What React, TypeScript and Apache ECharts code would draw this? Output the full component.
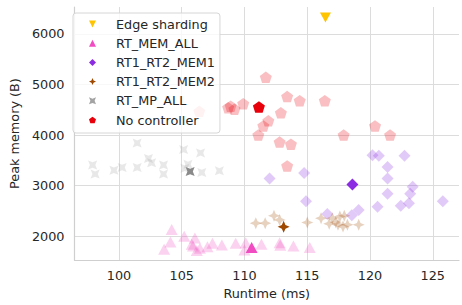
import React, { useEffect, useRef } from "react";
import * as echarts from "echarts";

// ---------- data ----------
const seriesNames = ["Edge sharding", "RT_MEM_ALL", "RT1_RT2_MEM1", "RT1_RT2_MEM2", "RT_MP_ALL", "No controller"];

const xTicks = [100, 105, 110, 115, 120, 125];
const yTicks = [2000, 3000, 4000, 5000, 6000];

const edgeSharding: number[][] = [[116.45, 6325]];

const rtMemAllRuns: number[][] = [
  [104.2, 2130], [104.1, 1885], [103.6, 1740], [105.2, 2000], [106.05, 1965], [105.8, 1840],
  [105.9, 1805], [106.45, 1760], [106.2, 1715], [107.05, 1790], [107.45, 1860], [108.2, 1825],
  [109.3, 1860], [110.1, 1870], [110.0, 1725], [111.35, 1840], [112.8, 1870], [112.85, 1820],
  [113.9, 1805], [115.2, 1775],
];
const rtMemAllBest: number[] = [110.57, 1775];

const mem1Runs: number[][] = [
  [112.0, 3140], [114.75, 3250], [114.9, 2690], [116.6, 2440], [118.55, 2415], [119.1, 2520],
  [120.2, 3600], [120.7, 3590], [121.4, 3370], [121.4, 3140], [121.4, 2840], [120.6, 2580],
  [122.75, 3590], [122.45, 2600], [123.1, 2650], [123.2, 2840], [123.4, 2980], [125.8, 2690],
];
const mem1Best: number[] = [118.6, 3020];

const mem2Runs: number[][] = [
  [110.9, 2258], [111.65, 2258], [112.35, 2405], [112.8, 2322], [115.0, 2272], [116.1, 2355],
  [116.75, 2246], [117.0, 2355], [117.27, 2277], [117.6, 2388], [117.95, 2405], [117.45, 2226],
  [117.85, 2194], [118.2, 2226], [119.1, 2226],
];
const mem2Best: number[] = [113.12, 2185];

const mpAllRuns: number[][] = [
  [101.45, 3840], [97.9, 3408], [98.1, 3228], [99.6, 3305], [100.25, 3357], [101.45, 3357],
  [102.35, 3537], [102.6, 3453], [103.55, 3408], [103.55, 3228], [105.15, 3712], [105.5, 3420],
  [105.25, 3343], [106.5, 3647], [106.6, 3260], [108.0, 3292],
];
const mpAllBest: number[] = [105.67, 3280];

const noCtrlRuns: number[][] = [
  [106.4, 4470], [108.7, 4540], [108.9, 4570], [109.2, 4510], [109.9, 4620], [111.7, 5140],
  [113.4, 4760], [114.4, 4680], [116.4, 4680], [112.9, 4440], [111.9, 4280], [111.5, 4180],
  [111.1, 4000], [112.8, 3860], [113.7, 3820], [117.9, 4000], [120.4, 4180], [121.6, 4000],
  [113.4, 3390],
];
const noCtrlBest: number[] = [111.15, 4555];

// ---------- styling ----------
const FONT = "DejaVu Sans";
const TEXT = "#262626";
const ALPHA = 0.25;

const SYM_PENTAGON = "path://M95.1 0 L190.2 69.1 L153.9 180.9 L36.3 180.9 L0 69.1 Z";
const SYM_TRI_DOWN = "path://M0 0 L100 0 L50 100 Z";
const SYM_STAR4 = "path://M50 0 L65 35 L100 50 L65 65 L50 100 L35 65 L0 50 L35 35 Z";
const SYM_STAR4X = "path://M0 0 L50 20 L100 0 L80 50 L100 100 L50 80 L0 100 L20 50 Z";

function build(runs: number[][], best: number[] | null, bestColor?: string) {
  const d: any[] = runs.map((p) => ({ value: p, itemStyle: { opacity: ALPHA } }));
  if (best) d.push({ value: best, itemStyle: bestColor ? { opacity: 1, color: bestColor } : { opacity: 1 } });
  return d;
}

export default function App() {
  const ref = useRef<HTMLDivElement>(null);
  useEffect(() => {
    if (!ref.current) return;
    const chart = echarts.init(ref.current, null, { renderer: "svg" });
    const mk = (name: string, color: string, symbol: string, size: any, data: any[], z: number) => ({
      name,
      type: "scatter",
      symbol,
      symbolSize: size,
      itemStyle: { color, opacity: 1 },
      data,
      z,
      emphasis: { disabled: true },
    });
    chart.setOption({
      animation: false,
      textStyle: { fontFamily: FONT },
      grid: { left: 67, top: 7, right: 0, bottom: 40.7, containLabel: false },
      xAxis: {
        type: "value",
        min: 96.455,
        max: 127.09,
        minInterval: 5,
        maxInterval: 5,
        name: "Runtime (ms)",
        nameLocation: "middle",
        nameGap: 26,
        nameTextStyle: { fontFamily: FONT, fontSize: 12.8, color: TEXT },
        axisLine: { show: true, lineStyle: { color: "#cfcfcf", width: 1.2 } },
        axisTick: { show: false },
        axisLabel: {
          margin: 9,
          fontFamily: FONT,
          fontSize: 12.8,
          color: TEXT,
          formatter: (v: number) => (xTicks.some((t) => Math.abs(t - v) < 1e-6) ? String(v) : ""),
        },
        splitLine: { show: true, showMinLine: false, showMaxLine: false, lineStyle: { color: "#dcdcdc", width: 1 } },
      },
      yAxis: {
        type: "value",
        min: 1527.5,
        max: 6531,
        minInterval: 1000,
        maxInterval: 1000,
        name: "Peak memory (B)",
        nameLocation: "middle",
        nameGap: 49,
        nameTextStyle: { fontFamily: FONT, fontSize: 12.8, color: TEXT },
        axisLine: { show: true, lineStyle: { color: "#cfcfcf", width: 1.2 } },
        axisTick: { show: false },
        axisLabel: {
          margin: 10,
          fontFamily: FONT,
          fontSize: 12.8,
          color: TEXT,
          formatter: (v: number) => (yTicks.some((t) => Math.abs(t - v) < 1e-6) ? String(v) : ""),
        },
        splitLine: { show: true, showMinLine: false, showMaxLine: false, lineStyle: { color: "#dcdcdc", width: 1 } },
      },
      legend: {
        orient: "vertical",
        left: 73,
        top: 13,
        padding: [4, 5, 6, 16],
        itemWidth: 7,
        itemHeight: 7,
        itemGap: 5.2,
        backgroundColor: "rgba(255,255,255,0.8)",
        borderColor: "#d6d6d6",
        borderWidth: 1,
        borderRadius: 3,
        data: seriesNames,
        textStyle: { fontFamily: FONT, fontSize: 12.8, color: TEXT, lineHeight: 14, padding: [0, 0, 0, 15] },
        selectedMode: false,
        z: 10,
      },
      series: [
        mk(seriesNames[0], "#ffc400", SYM_TRI_DOWN, [11, 10], edgeSharding.map((p) => ({ value: p })), 6),
        mk(seriesNames[1], "#f14cc1", "triangle", [12, 11], build(rtMemAllRuns, rtMemAllBest), 2),
        mk(seriesNames[2], "#8b2be2", "diamond", [12, 12], build(mem1Runs, mem1Best), 2),
        mk(seriesNames[3], "#9f4800", SYM_STAR4, [12, 12], build(mem2Runs, mem2Best), 3),
        mk(seriesNames[4], "#a3a3a3", SYM_STAR4X, [9, 9], build(mpAllRuns, mpAllBest, "#8a8a8a"), 2),
        mk(seriesNames[5], "#e8000b", SYM_PENTAGON, [12, 11.5], build(noCtrlRuns, noCtrlBest), 4),
      ],
    });
    return () => chart.dispose();
  }, []);
  return (
    <div
      ref={ref}
      style={{ position: "absolute", left: 0, top: 0, width: 462, height: 305, background: "#fff" }}
    />
  );
}
